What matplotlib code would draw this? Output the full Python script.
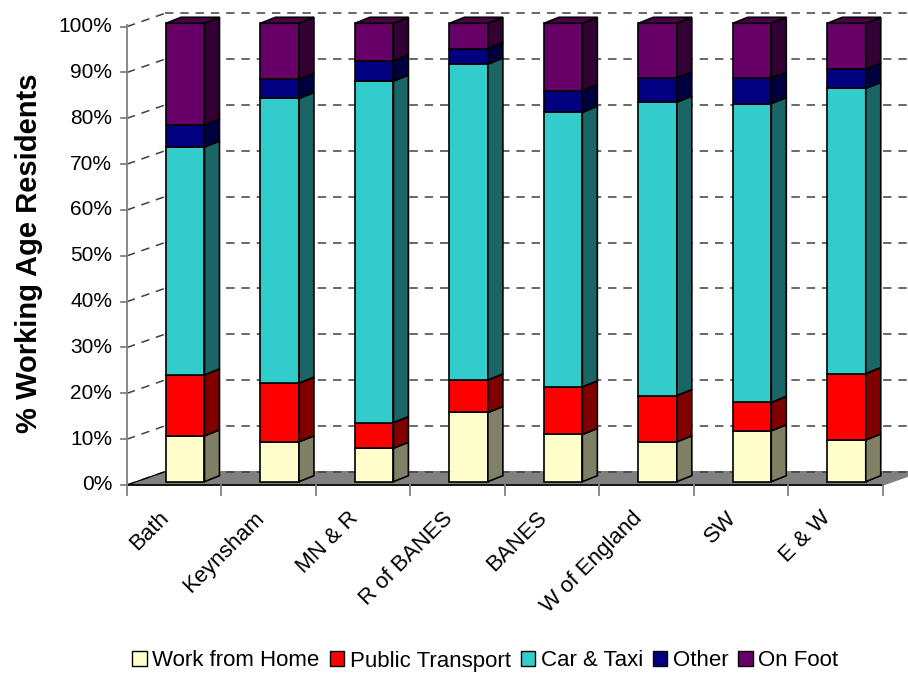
import matplotlib
matplotlib.use("Agg")
import matplotlib.pyplot as plt
from matplotlib.patches import Polygon, Patch
from matplotlib.lines import Line2D
import numpy as np

plt.rcParams['font.family'] = ['Liberation Sans', 'DejaVu Sans']

# ---- data ----
categories = ["Bath", "Keynsham", "MN & R", "R of BANES", "BANES", "W of England", "SW", "E & W"]
series_names = ["Work from Home", "Public Transport", "Car & Taxi", "Other", "On Foot"]
work_from_home = [10.0, 8.7, 7.3, 15.1, 10.3, 8.7, 11.1, 9.1]
public_transport = [13.3, 12.8, 5.6, 7.1, 10.4, 10.1, 6.2, 14.5]
car_taxi = [49.7, 62.1, 74.5, 68.9, 59.9, 64.0, 65.2, 62.2]
other = [4.8, 4.2, 4.4, 3.4, 4.7, 5.3, 5.6, 4.2]
on_foot = [22.2, 12.2, 8.2, 5.5, 14.7, 11.9, 11.9, 10.0]
y_ticks = [0, 10, 20, 30, 40, 50, 60, 70, 80, 90, 100]
y_tick_labels = [f"{t}%" for t in y_ticks]

series = [work_from_home, public_transport, car_taxi, other, on_foot]
front_colors = ["#FFFFCC", "#FF0000", "#33CCCC", "#000080", "#660066"]
side_colors = ["#808066", "#800000", "#1A6666", "#000040", "#330033"]
top_color = "#4C004C"

# ---- layout (pixel geometry -> data units) ----
W, H = 908, 673
px_x = 94.5      # pixels per category
px_y = 4.584     # pixels per percent
x0_px = 174      # front-plane centre of first category
y0_px = 485      # front-plane 0%

fig = plt.figure(figsize=(W / 100, H / 100), dpi=100)
ax = fig.add_axes([127 / W, (H - y0_px) / H, (W - 127) / W, y0_px / H])
xmax = (W - x0_px) / px_x
ax.set_xlim(-0.5, xmax)
ax.set_ylim(0, y0_px / px_y)
ax.set_axis_off()

def dx(p):
    return p / px_x

def dy(p):
    return p / px_y

n = len(categories)
floor_dx, floor_dy = dx(38), dy(13.3)
bar_off_x, bar_off_y = dx(11), dy(3.3)
bar_w = dx(38.5)
side_dx, side_dy = dx(15), dy(6)

# floor
floor = Polygon([(-0.5, 0), (n - 0.5, 0), (n - 0.5 + floor_dx, floor_dy), (-0.5 + floor_dx, floor_dy)],
                closed=True, facecolor="#808080", edgecolor="#808080", lw=1, zorder=1, clip_on=False)
ax.add_patch(floor)
ax.plot([-0.5, n - 0.5], [0, 0], color="black", lw=1.2, zorder=2, clip_on=False)
ax.plot([-0.5, -0.5 + floor_dx], [0, floor_dy], color="black", lw=0.8, zorder=2, clip_on=False)

# gridlines (side wall + back wall)
dash = (5.5, 4.5)
for t in y_ticks:
    ax.add_line(Line2D([-0.5, -0.5 + floor_dx], [t, t + floor_dy], color="#404040", lw=1.1,
                       dashes=dash, zorder=1.5, clip_on=False))
    ax.add_line(Line2D([-0.5 + floor_dx, xmax + 0.5], [t + floor_dy, t + floor_dy], color="#404040",
                       lw=1.1, dashes=dash, zorder=1.5, clip_on=True))

# y axis line and ticks
ax.plot([-0.5, -0.5], [0, 100.3], color="#808080", lw=1.3, zorder=3, clip_on=False)
for t, lab in zip(y_ticks, y_tick_labels):
    ax.plot([-0.5 - dx(6), -0.5], [t, t], color="#808080", lw=1.3, zorder=3, clip_on=False)
    ax.text(-0.5 - dx(15), t, lab, ha="right", va="center", fontsize=15, color="black")

# x axis ticks at category boundaries
for k in range(n + 1):
    ax.plot([k - 0.5, k - 0.5], [0, -dy(10)], color="#808080", lw=1.3, zorder=3, clip_on=False)

# category labels
for i, c in enumerate(categories):
    ax.text(i - dx(8), -dy(30), c, rotation=45, rotation_mode="anchor", ha="right", va="center",
            fontsize=16, color="black")

# bars
xs = np.arange(n) + bar_off_x
bottom = np.zeros(n) + bar_off_y
for s_idx, vals in enumerate(series):
    vals = np.array(vals)
    ax.bar(xs, vals, bottom=bottom, width=bar_w, color=front_colors[s_idx], edgecolor="black",
           lw=1.2, zorder=5)
    for i in range(n):
        xr = xs[i] + bar_w / 2
        b, t = bottom[i], bottom[i] + vals[i]
        ax.add_patch(Polygon([(xr, b), (xr + side_dx, b + side_dy), (xr + side_dx, t + side_dy), (xr, t)],
                             closed=True, facecolor=side_colors[s_idx], edgecolor="black", lw=1.2,
                             zorder=5, clip_on=False))
    bottom = bottom + vals

for i in range(n):
    xl = xs[i] - bar_w / 2
    xr = xs[i] + bar_w / 2
    T = bottom[i]
    ax.add_patch(Polygon([(xl, T), (xl + side_dx, T + side_dy), (xr + side_dx, T + side_dy), (xr, T)],
                         closed=True, facecolor=top_color, edgecolor="black", lw=1.2, zorder=5,
                         clip_on=False))

# y label
fig.text(29 / W, 1 - 253 / H, "% Working Age Residents", rotation=90, ha="center", va="center",
         fontsize=21, fontweight="bold")

# legend
handles = [Patch(facecolor=c, edgecolor="black", lw=1.0) for c in front_colors]
fig.legend(handles, series_names, loc="center", bbox_to_anchor=(485.5 / W, 1 - 661 / H), ncol=5,
           frameon=False, fontsize=16, handlelength=0.65, handleheight=0.65, handletextpad=0.25,
           columnspacing=0.45, borderaxespad=0)

fig.savefig("out.png", dpi=100)
